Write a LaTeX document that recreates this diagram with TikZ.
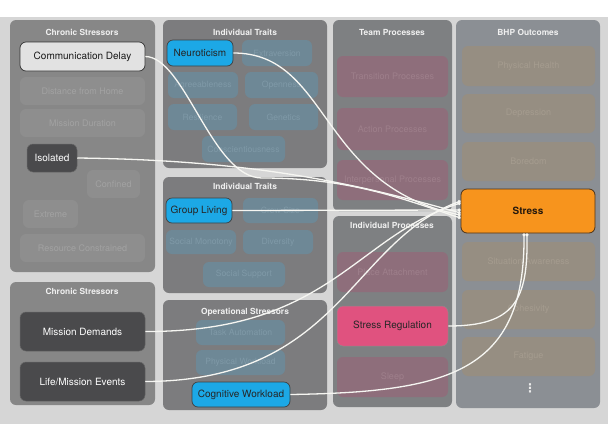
\documentclass[tikz,border=0pt]{standalone}
\usepackage{fontspec}
\setmainfont{TeX Gyre Heros}
\newfontfamily\symfont{DejaVu Sans}
\usetikzlibrary{arrows.meta}
\definecolor{bgpanel}{HTML}{D6D6D6}
\definecolor{chronpanel}{HTML}{878787}
\definecolor{traitpanel}{HTML}{7C7C7E}
\definecolor{procpanel}{HTML}{7E8082}
\definecolor{outpanel}{HTML}{8B8F94}
\definecolor{greyfade}{HTML}{8E8E8E}
\definecolor{greyfadetxt}{HTML}{A2A2A2}
\definecolor{bluefade}{HTML}{6E8896}
\definecolor{bluefadetxt}{HTML}{7F99A7}
\definecolor{pinkfade}{HTML}{8E6E7B}
\definecolor{pinkfadetxt}{HTML}{9E7F8B}
\definecolor{tanfade}{HTML}{968E82}
\definecolor{tanfadetxt}{HTML}{A59C8F}
\definecolor{cyanon}{HTML}{1CA8E6}
\definecolor{pinkon}{HTML}{E0527F}
\definecolor{orangeon}{HTML}{F7941D}
\definecolor{darkon}{HTML}{4A4A4C}
\definecolor{lighton}{HTML}{E2E2E2}
\definecolor{linkcol}{HTML}{F6F6F2}
\tikzset{
  x=1pt, y=-1pt,
  panel/.style={rounded corners=6pt, draw=none},
  ptitle/.style={text=white!94!black, font=\fontsize{8.4}{9}\selectfont\bfseries, anchor=center},
  box/.style={rounded corners=6pt, inner sep=0pt, font=\fontsize{10}{12}\selectfont, align=center},
  fadebox/.style={box, font=\fontsize{9}{11}\selectfont},
  gfade/.style={fadebox, fill=greyfade, text=greyfadetxt},
  bfade/.style={fadebox, fill=bluefade, text=bluefadetxt, font=\fontsize{8.6}{10}\selectfont},
  pfade/.style={fadebox, fill=pinkfade, text=pinkfadetxt},
  tfade/.style={fadebox, fill=tanfade, text=tanfadetxt},
  bon/.style={box, fill=cyanon, draw=black!75, line width=0.7pt, text=black!85},
  don/.style={box, fill=darkon, text=white, draw=black!60, line width=0.5pt},
  lon/.style={box, fill=lighton, draw=black!80, line width=0.7pt, text=black!90},
  pon/.style={box, fill=pinkon, draw=black!45, line width=0.5pt, text=black!85},
  oon/.style={box, fill=orangeon, draw=black!60!brown, line width=0.8pt, text=black!80!brown, font=\fontsize{10}{12}\selectfont\bfseries},
  link/.style={draw=linkcol, line width=1.3pt, -{Circle[length=3pt, fill=linkcol]}},
}
% box by corner coordinates: name, x1, y1, x2, y2, style, text
\newcommand\cbox[7]{%
  \node[#6, minimum width={(#4-#2)*1pt}, minimum height={(#5-#3)*1pt}]
    (#1) at ({(#2+#4)/2},{(#3+#5)/2}) {#7};}
\begin{document}
\begin{tikzpicture}
\useasboundingbox (0,0) rectangle (608,424);
\fill[white] (0,0) rectangle (608,424);
\fill[bgpanel] (0,17) rectangle (608,424);

% panels
\fill[panel, chronpanel] (10,20) rectangle (155,272);
\fill[panel, chronpanel] (10,282) rectangle (155,405);
\fill[panel, traitpanel] (163,20) rectangle (327,168);
\fill[panel, traitpanel] (163,177) rectangle (327,293);
\fill[panel, traitpanel] (163,300) rectangle (327,410);
\fill[panel, procpanel] (333,20) rectangle (452,211);
\fill[panel, procpanel] (333,216) rectangle (452,407);
\fill[panel, outpanel] (456,20) rectangle (600,408);

\node[ptitle] (t1) at (82,32) {Chronic Stressors};
\node[ptitle] (t2) at (82,291) {Chronic Stressors};
\node[ptitle] (t3) at (245,32) {Individual Traits};
\node[ptitle] (t4) at (245,186) {Individual Traits};
\node[ptitle] (t5) at (245,312) {Operational Stressors};
\node[ptitle] (t6) at (392,32) {Team Processes};
\node[ptitle] (t7) at (392,225) {Individual Processes};
\node[ptitle] (t8) at (528,32) {BHP Outcomes};

% chronic stressors
\cbox{cd}{20}{42}{145}{71}{lon}{Communication Delay}
\cbox{dh}{20}{77}{145}{105}{gfade}{Distance from Home}
\cbox{md}{20}{109}{145}{137}{gfade}{Mission Duration}
\cbox{iso}{27}{144}{77}{172}{don}{Isolated}
\cbox{con}{87}{170}{140}{198}{gfade}{Confined}
\cbox{ext}{23}{200}{78}{228}{gfade}{Extreme}
\cbox{rc}{20}{234}{145}{262}{gfade}{Resource Constrained}
\cbox{mdm}{20}{312}{145}{351}{don}{Mission Demands}
\cbox{lme}{20}{362}{145}{401}{don}{Life/Mission Events}

% individual traits
\cbox{neu}{167}{40}{233}{66}{bon}{Neuroticism}
\cbox{ext2}{242}{40}{312}{66}{bfade}{Extraversion}
\cbox{agr}{168}{72}{238}{98}{bfade}{Agreeableness}
\cbox{ope}{245}{72}{318}{98}{bfade}{Openness}
\cbox{res}{168}{104}{237}{130}{bfade}{Resilience}
\cbox{gen}{249}{104}{318}{130}{bfade}{Genetics}
\cbox{csc}{202}{136}{285}{162}{bfade}{Conscientiousness}
\cbox{gl}{166}{198}{232}{223}{bon}{Group Living}
\cbox{cs}{243}{198}{318}{223}{bfade}{Crew Size}
\cbox{sm}{166}{230}{236}{254}{bfade}{Social Monotony}
\cbox{div}{243}{230}{313}{254}{bfade}{Diversity}
\cbox{ss}{203}{262}{285}{287}{bfade}{Social Support}

% operational stressors
\cbox{ta}{196}{320}{285}{345}{bfade}{Task Automation}
\cbox{pw}{196}{350}{285}{375}{bfade}{Physical Workload}
\cbox{cw}{192}{382}{290}{407}{bon}{Cognitive Workload}

% processes
\cbox{tp}{337}{56}{448}{97}{pfade}{Transition Processes}
\cbox{ap}{337}{108}{448}{150}{pfade}{Action Processes}
\cbox{ip}{337}{160}{448}{200}{pfade}{Interpersonal Processes}
\cbox{pa}{337}{252}{448}{292}{pfade}{Place Attachment}
\cbox{sr}{337}{306}{448}{346}{pon}{Stress Regulation}
\cbox{sl}{337}{357}{448}{397}{pfade}{Sleep}

% outcomes
\cbox{ph}{462}{46}{595}{86}{tfade}{Physical Health}
\cbox{dep}{462}{94}{595}{133}{tfade}{Depression}
\cbox{bor}{462}{142}{595}{181}{tfade}{Boredom}
\cbox{st}{461}{189}{595}{233}{oon}{Stress}
\cbox{sa}{462}{242}{595}{281}{tfade}{Situation Awareness}
\cbox{coh}{462}{290}{595}{329}{tfade}{Cohesivity}
\cbox{fat}{462}{337}{595}{376}{tfade}{Fatigue}
\node[text=white!92!black, font=\symfont\fontsize{12}{12}\selectfont\bfseries] (more) at (530,388) {⋮};

% links into Stress
\coordinate (s1) at ([yshift=-7pt]st.west);
\coordinate (s2) at ([yshift=-4pt]st.west);
\coordinate (s3) at ([yshift=-2pt]st.west);
\coordinate (s4) at ([yshift=1pt]st.west);
\coordinate (s5) at ([yshift=8pt]st.west);
\coordinate (s6) at ([yshift=10pt]st.west);
\coordinate (b1) at ([xshift=-1pt]st.south);
\coordinate (b2) at ([xshift=-4pt]st.south);

\draw[link] (cd.east) .. controls (185,57) and (212,178) .. (262,178)
  .. controls (350,178) and (400,198) .. (s1);
\draw[link] (neu.east) .. controls (330,53) and (318,186) .. (s2);
\draw[link] (iso.east) .. controls (250,160) and (350,182) .. (s3);
\draw[link] (gl.east) -- (s4);
\draw[link] (mdm.east) .. controls (330,332) and (355,236) .. (s5);
\draw[link] (lme.east) .. controls (340,381) and (350,242) .. (s6);
\draw[link] (sr.east) .. controls (515,326) and (528,300) .. (b1);
\draw[link] (cw.east) .. controls (450,392) and (525,372) .. (b2);
\end{tikzpicture}
\end{document}
